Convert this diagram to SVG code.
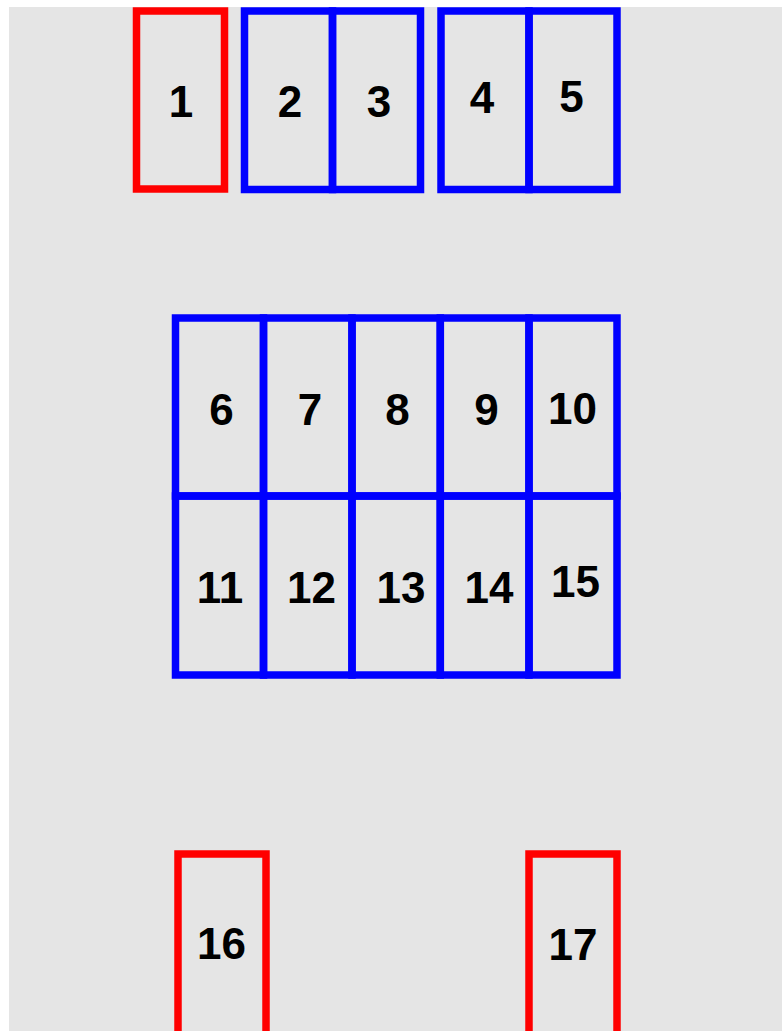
<svg xmlns="http://www.w3.org/2000/svg" width="782" height="1031" viewBox="0 0 782 1031">
<style>
.bg{fill:#e5e5e5}
.red{fill:none;stroke:#ff0000;stroke-width:7.5}
.blue{fill:none;stroke:#0000ff;stroke-width:7.5}
.lbl{font-family:"Liberation Sans",Arial,sans-serif;font-weight:bold;font-size:44px;fill:#000;text-anchor:middle}
</style>
<rect x="0" y="0" width="782" height="1031" fill="#ffffff"/>
<rect class="bg" x="9" y="7" width="773" height="1024"/>
<g id="node1"><rect class="red" x="136.5" y="11" width="88" height="178"/><text class="lbl" x="181" y="117">1</text></g>
<g id="node2"><rect class="blue" x="244.5" y="11" width="88" height="178.5"/><text class="lbl" x="290" y="117">2</text></g>
<g id="node3"><rect class="blue" x="332.5" y="11" width="88" height="178.5"/><text class="lbl" x="379" y="117">3</text></g>
<g id="node4"><rect class="blue" x="441" y="11" width="88" height="178.5"/><text class="lbl" x="482" y="113">4</text></g>
<g id="node5"><rect class="blue" x="529" y="11" width="88" height="178.5"/><text class="lbl" x="571.5" y="112">5</text></g>
<g id="node6"><rect class="blue" x="175.5" y="318" width="88" height="178"/><text class="lbl" x="221.5" y="425">6</text></g>
<g id="node7"><rect class="blue" x="263.5" y="318" width="88.5" height="178"/><text class="lbl" x="310" y="425">7</text></g>
<g id="node8"><rect class="blue" x="352" y="318" width="88.3" height="178"/><text class="lbl" x="397.5" y="425">8</text></g>
<g id="node9"><rect class="blue" x="440.3" y="318" width="88.7" height="178"/><text class="lbl" x="486.5" y="425">9</text></g>
<g id="node10"><rect class="blue" x="529" y="318" width="88" height="178"/><text class="lbl" x="572.5" y="424">10</text></g>
<g id="node11"><rect class="blue" x="175.5" y="496" width="88" height="179"/><text class="lbl" x="220" y="603">11</text></g>
<g id="node12"><rect class="blue" x="263.5" y="496" width="88.5" height="179"/><text class="lbl" x="311.5" y="603">12</text></g>
<g id="node13"><rect class="blue" x="352" y="496" width="88.3" height="179"/><text class="lbl" x="401" y="603">13</text></g>
<g id="node14"><rect class="blue" x="440.3" y="496" width="88.7" height="179"/><text class="lbl" x="489" y="603">14</text></g>
<g id="node15"><rect class="blue" x="529" y="496" width="88" height="179"/><text class="lbl" x="575.5" y="597">15</text></g>
<g id="node16"><rect class="red" x="178" y="854" width="88" height="190"/><text class="lbl" x="221.5" y="959">16</text></g>
<g id="node17"><rect class="red" x="529" y="854" width="88" height="190"/><text class="lbl" x="573" y="960">17</text></g>
<g id="connectors"></g>
</svg>
